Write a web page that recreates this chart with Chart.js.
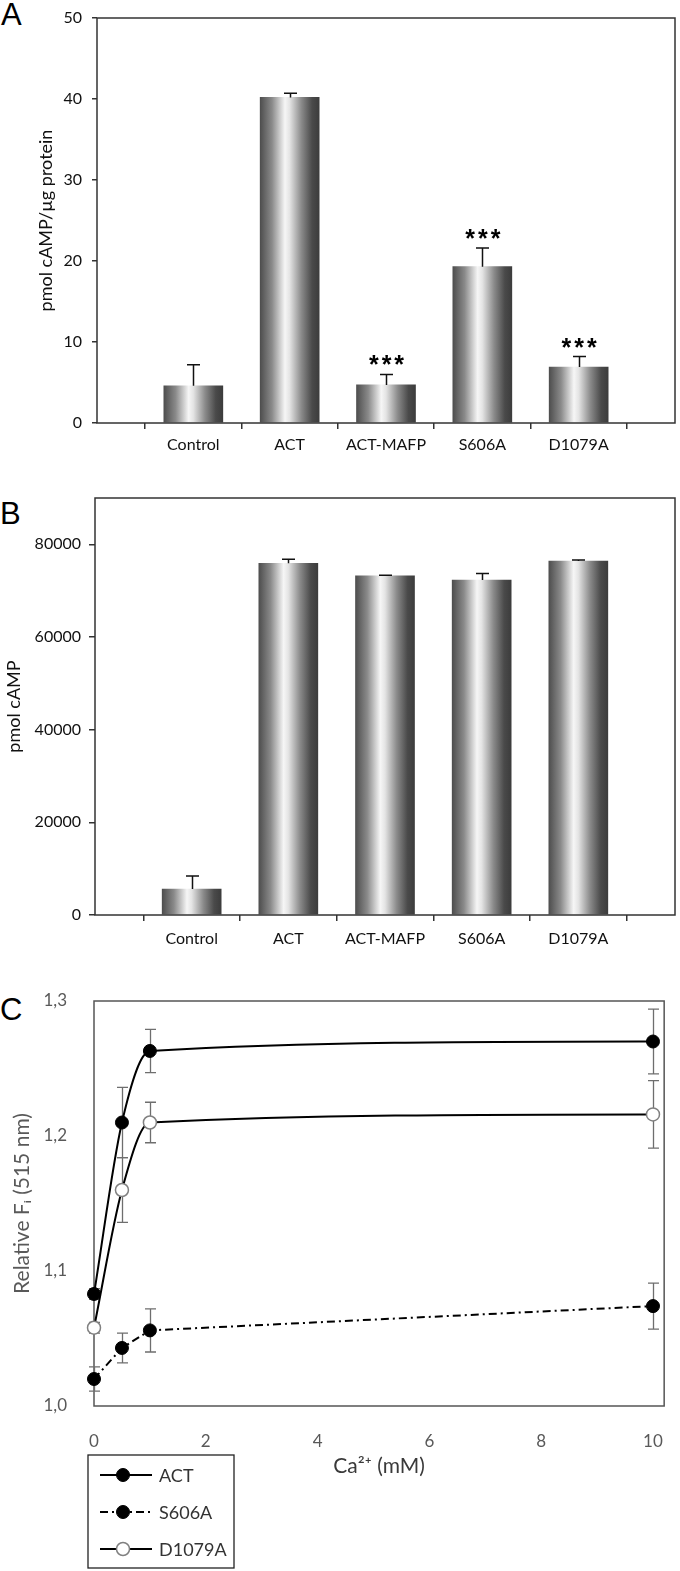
<!DOCTYPE html>
<html><head><meta charset="utf-8">
<script src="https://cdn.jsdelivr.net/npm/chart.js@4.4.1/dist/chart.umd.min.js"></script>
<style>
html,body{margin:0;padding:0;background:#fff;}
body{width:680px;height:1571px;position:relative;overflow:hidden;}
.wrap{position:absolute;left:0;width:680px;}
.lbl{position:absolute;font-family:"Liberation Sans",Arial,sans-serif;font-size:31px;color:#000;line-height:1;}
</style></head><body>
<div class="lbl" style="left:1px;top:-1px">A</div>
<div class="lbl" style="left:0px;top:498px">B</div>
<div class="lbl" style="left:0px;top:994px">C</div>
<div class="wrap" style="top:0;height:470px"><canvas id="ca"></canvas></div>
<div class="wrap" style="top:470px;height:490px"><canvas id="cb"></canvas></div>
<div class="wrap" style="top:960px;height:611px"><canvas id="cc"></canvas></div>
<script>
// ---------- data ----------
const categories = ['Control', 'ACT', 'ACT-MAFP', 'S606A', 'D1079A'];
const categoryPos = [1, 2, 3, 4, 5];

const campPerProtein    = [4.6, 40.2, 4.7, 19.3, 6.9];
const campPerProteinErr = [2.6, 0.5, 1.3, 2.3, 1.3];
const significanceA     = ['', '', '***', '***', '***'];
const yTicksA = [0, 10, 20, 30, 40, 50];

const campTotal    = [5600, 75900, 73200, 72300, 76400];
const campTotalErr = [2800, 900, 150, 1400, 200];
const yTicksB = [0, 20000, 40000, 60000, 80000];

const caConc = [0, 0.5, 1, 10];
const fiACT      = [1.083, 1.210, 1.263, 1.270];
const fiACTErr   = [0.004, 0.026, 0.016, 0.024];
const fiS606A    = [1.020, 1.043, 1.056, 1.074];
const fiS606AErr = [0.009, 0.011, 0.016, 0.017];
const fiD1079A   = [1.058, 1.160, 1.210, 1.216];
const fiD1079AErr= [0.004, 0.024, 0.015, 0.025];
const xTicksC = [0, 2, 4, 6, 8, 10];
const yTicksC = [1.0, 1.1, 1.2, 1.3];
const yTickLabelsC = ['1,0', '1,1', '1,2', '1,3'];

// ---------- helpers ----------
Chart.defaults.font.family = 'Lato, "Open Sans", sans-serif';
Chart.defaults.color = '#000';
const BAR_W = 59;

function barGradient(c) {
  const chart = c.chart;
  if (!chart.chartArea || c.type !== 'data' || !c.parsed) return '#888';
  const cx = chart.scales.x.getPixelForValue(c.parsed.x);
  const g = chart.ctx.createLinearGradient(cx - BAR_W / 2, 0, cx + BAR_W / 2, 0);
  g.addColorStop(0, '#4e4e4e');
  g.addColorStop(0.2, '#8a8a8a');
  g.addColorStop(0.42, '#f6f6f6');
  g.addColorStop(0.5, '#e4e4e4');
  g.addColorStop(0.7, '#8a8a8a');
  g.addColorStop(0.88, '#4a4a4a');
  g.addColorStop(1, '#3c3c3c');
  return g;
}

function drawErr(chart, o) {
  const c = chart.ctx, xs = chart.scales.x, ys = chart.scales.y;
  c.save();
  c.strokeStyle = o.color; c.lineWidth = o.width;
  chart.data.datasets.forEach(ds => {
    if (!ds.errors) return;
    ds.data.forEach((d, j) => {
      const e = ds.errors[j];
      const x = Math.round(xs.getPixelForValue(d.x)) + 0.5;
      const t = ys.getPixelForValue(d.y + e);
      const b = o.upperOnly ? ys.getPixelForValue(d.y) : ys.getPixelForValue(d.y - e);
      c.beginPath();
      c.moveTo(x, t); c.lineTo(x, b);
      c.moveTo(x - o.cap / 2, t); c.lineTo(x + o.cap / 2, t);
      if (!o.upperOnly) { c.moveTo(x - o.cap / 2, b); c.lineTo(x + o.cap / 2, b); }
      c.stroke();
    });
  });
  c.restore();
}
function drawFrame(chart, o) {
  const a = chart.chartArea, c = chart.ctx;
  c.save(); c.strokeStyle = o.color; c.lineWidth = o.width;
  c.strokeRect(a.left, a.top, a.right - a.left, a.bottom - a.top);
  c.restore();
}
const extras = {
  id: 'extras',
  beforeDatasetsDraw(chart, args, o) {
    if (o.frame && !o.frame.onTop) drawFrame(chart, o.frame);
    if (o.err && o.err.behind) drawErr(chart, o.err);
  },
  afterDatasetsDraw(chart, args, o) {
    if (o.err && !o.err.behind) drawErr(chart, o.err);
    if (o.frame && o.frame.onTop) drawFrame(chart, o.frame);
    if (o.stars) {
      const c = chart.ctx, xs = chart.scales.x, ys = chart.scales.y;
      c.save();
      c.font = o.stars.font; c.fillStyle = '#000';
      c.textAlign = 'center'; c.textBaseline = 'alphabetic';
      try { c.letterSpacing = o.stars.spacing; } catch (e) {}
      chart.data.datasets.forEach(ds => {
        if (!ds.marks) return;
        ds.data.forEach((d, j) => {
          if (!ds.marks[j]) return;
          const y = ys.getPixelForValue(d.y + (ds.errors ? ds.errors[j] : 0));
          c.fillText(ds.marks[j], xs.getPixelForValue(d.x) + 2, y + o.stars.dy);
        });
      });
      c.restore();
    }
  },
  afterDraw(chart, args, o) {
    if (!o.legend) return;
    const L = o.legend, c = chart.ctx;
    c.save();
    c.strokeStyle = '#222'; c.lineWidth = 1.3;
    c.strokeRect(L.x, L.y, L.w, L.h);
    chart.data.datasets.forEach((ds, i) => {
      const y = L.y + L.first + i * L.step;
      c.setLineDash(ds.borderDash || []);
      c.strokeStyle = ds.borderColor; c.lineWidth = ds.borderWidth;
      c.beginPath(); c.moveTo(L.x + L.lineX0, y); c.lineTo(L.x + L.lineX1, y); c.stroke();
      c.setLineDash([]);
      c.beginPath(); c.arc(L.x + L.markX, y, ds.pointRadius, 0, Math.PI * 2);
      c.fillStyle = ds.pointBackgroundColor; c.fill();
      c.lineWidth = ds.pointBorderWidth; c.strokeStyle = ds.pointBorderColor; c.stroke();
      c.fillStyle = L.color; c.font = L.font; c.textBaseline = 'middle'; c.textAlign = 'left';
      c.fillText(ds.label, L.x + L.textX, y + 1);
    });
    c.restore();
  }
};
Chart.register(extras);

function barConfig(vals, errs, marks, yTicks, yMax, layout, yTitle, yTitlePad, tickPadY, tickLenY, xTickLen, xTickPad, yW, xH) {
  return {
    type: 'bar',
    data: {
      datasets: [{
        data: categoryPos.map((p, i) => ({ x: p, y: vals[i] })),
        errors: errs, marks: marks,
        backgroundColor: barGradient,
        barThickness: BAR_W,
        borderWidth: 0
      }]
    },
    options: {
      responsive: true, maintainAspectRatio: false, animation: false,
      layout: { padding: layout },
      plugins: {
        legend: { display: false }, tooltip: { enabled: false },
        extras: {
          err: { color: '#111', width: 1.5, cap: 13, upperOnly: true, behind: false },
          frame: { color: '#333', width: 1.5, onTop: true },
          stars: marks ? { font: 'bold 25px "Liberation Sans", Arial', spacing: '3px', dy: -1 } : null
        }
      },
      scales: {
        x: {
          type: 'linear', min: 0, max: 6, offset: false,
          afterBuildTicks: s => { s.ticks = categoryPos.map(v => ({ value: v })); },
          afterFit: s => { s.height = xH; },
          ticks: { callback: (v) => categories[categoryPos.indexOf(v)] ?? '', autoSkip: false, maxRotation: 0,
                   padding: xTickPad, font: { size: 16 }, color: '#111' },
          grid: { display: true, drawOnChartArea: false, drawTicks: true, tickLength: xTickLen, color: '#333', lineWidth: 1.5 },
          border: { display: false }
        },
        y: {
          type: 'linear', min: 0, max: yMax,
          afterBuildTicks: s => { s.ticks = yTicks.map(v => ({ value: v })); },
          afterFit: s => { s.width = yW; },
          ticks: { padding: tickPadY, font: { size: 16, lineHeight: 1 }, color: '#111',
                   callback: (v) => String(v) },
          grid: { display: true, drawOnChartArea: false, drawTicks: true, tickLength: tickLenY, color: '#333', lineWidth: 1.5 },
          border: { display: false },
          title: { display: true, text: yTitle, font: { size: 18 }, color: '#111', padding: { top: yTitlePad, bottom: 0 } }
        }
      }
    }
  };
}

new Chart(document.getElementById('ca'),
  barConfig(campPerProtein, campPerProteinErr, significanceA, yTicksA, 50,
    { top: 8, right: 5, left: 0, bottom: 0 }, 'pmol cAMP/µg protein', 35, 10, 5, 6, 6, 97, 47));

new Chart(document.getElementById('cb'),
  barConfig(campTotal, campTotalErr, null, yTicksB, 90000,
    { top: 28, right: 5, left: 0, bottom: 0 }, 'pmol cAMP', 3, 8, 6, 6, 8, 95, 45));

// ---------- panel C ----------
function pts(ys) { return caConc.map((x, i) => ({ x: x, y: ys[i] })); }
new Chart(document.getElementById('cc'), {
  type: 'line',
  data: {
    datasets: [
      { label: 'ACT', data: pts(fiACT), errors: fiACTErr, borderColor: '#000', borderWidth: 2,
        pointRadius: 6.5, pointBackgroundColor: '#000', pointBorderColor: '#000', pointBorderWidth: 1,
        cubicInterpolationMode: 'monotone', clip: false },
      { label: 'S606A', data: pts(fiS606A), errors: fiS606AErr, borderColor: '#000', borderWidth: 2,
        borderDash: [8, 4, 2, 4], tension: 0,
        pointRadius: 6.5, pointBackgroundColor: '#000', pointBorderColor: '#000', pointBorderWidth: 1,
        clip: false },
      { label: 'D1079A', data: pts(fiD1079A), errors: fiD1079AErr, borderColor: '#000', borderWidth: 2,
        pointRadius: 6.5, pointBackgroundColor: '#fff', pointBorderColor: '#808080', pointBorderWidth: 1.5,
        cubicInterpolationMode: 'monotone', clip: false }
    ]
  },
  options: {
    responsive: true, maintainAspectRatio: false, animation: false,
    layout: { padding: { top: 41, right: 3, left: 0, bottom: 90 } },
    plugins: {
      legend: { display: false }, tooltip: { enabled: false },
      extras: {
        err: { color: '#6e6e6e', width: 1.3, cap: 11, upperOnly: false, behind: true },
        frame: { color: '#555', width: 1.5, onTop: false },
        legend: { x: 88, y: 495, w: 146, h: 113, first: 20, step: 37, lineX0: 12, lineX1: 64, markX: 35, textX: 71,
                  color: '#333', font: '18px Lato, "Open Sans", sans-serif' }
      }
    },
    scales: {
      x: {
        type: 'linear', min: 0, max: 10.2,
        afterBuildTicks: s => { s.ticks = xTicksC.map(v => ({ value: v })); },
        afterFit: s => { s.height = 75; },
        ticks: { padding: 17, font: { size: 17 }, color: '#595959' },
        grid: { display: false },
        border: { display: false },
        title: { display: true, text: 'Ca²⁺ (mM)', font: { size: 21 }, color: '#3a3a3a', padding: { top: 0, bottom: 2 } }
      },
      y: {
        type: 'linear', min: 1.0, max: 1.3,
        afterBuildTicks: s => { s.ticks = yTicksC.map(v => ({ value: v })); },
        afterFit: s => { s.width = 94; },
        ticks: { padding: 19, font: { size: 17, lineHeight: 1 }, color: '#595959',
                 callback: (v) => yTickLabelsC[yTicksC.findIndex(t => Math.abs(t - v) < 1e-9)] ?? '' },
        grid: { display: false },
        border: { display: false },
        title: { display: true, text: 'Relative Fᵢ (515 nm)', font: { size: 21 }, color: '#595959', padding: { top: 10, bottom: 0 } }
      }
    }
  }
});
</script>
</body></html>
